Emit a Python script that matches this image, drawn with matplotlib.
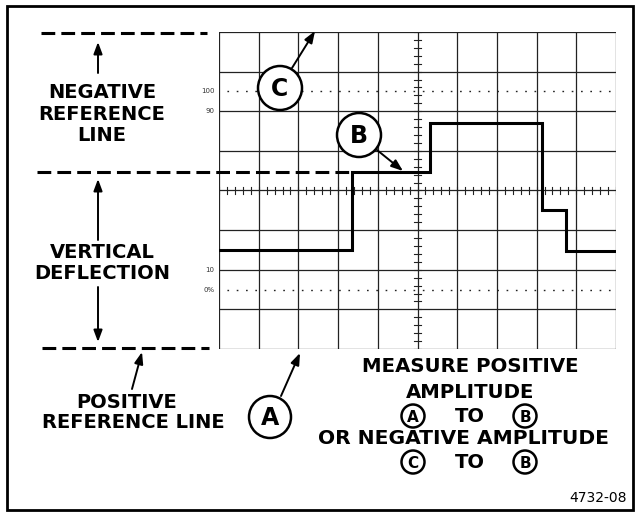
import matplotlib
matplotlib.use("Agg")
import matplotlib.pyplot as plt
from matplotlib.patches import Circle, FancyArrowPatch, Rectangle

# ---- data (graticule divisions) ----
edge_times = [0.0, 3.35, 5.31, 8.14, 8.74, 10.0]
levels = [2.50, 4.47, 5.71, 3.51, 2.48, 2.48]
n_hdiv = 10
n_vdiv = 8
pct_lines = [1.5, 6.5]            # 0% and 100% dotted lines
pct_labels = ["0%", "10", "90", "100"]
pct_label_levels = [1.5, 2.0, 6.0, 6.5]

left_labels = [("NEGATIVE\nREFERENCE\nLINE", 102, 114),
               ("VERTICAL\nDEFLECTION", 102, 263),
               ("POSITIVE", 127, 402),
               ("REFERENCE LINE", 133, 423)]
note_lines = ["MEASURE POSITIVE", "AMPLITUDE", "OR NEGATIVE AMPLITUDE"]
fig_id = "4732-08"

W, H = 639, 515
fig = plt.figure(figsize=(W / 100, H / 100), dpi=100)
fig.patch.set_facecolor("white")

# ---- graticule ----
gx0, gx1, gy0, gy1 = 219, 616, 32, 349
ax = fig.add_axes([gx0 / W, (H - gy1) / H, (gx1 - gx0) / W, (gy1 - gy0) / H])
ax.set_xlim(0, n_hdiv)
ax.set_ylim(0, n_vdiv)
ax.axis("off")
gcol = "#222222"
for i in range(n_hdiv + 1):
    ax.plot([i, i], [0, n_vdiv], color=gcol, lw=0.9, zorder=1)
for j in range(n_vdiv + 1):
    ax.plot([0, n_hdiv], [j, j], color=gcol, lw=0.9, zorder=1)
# minor ticks on the centre axes
k = 0
while k <= n_hdiv * 5:
    xv = k / 5
    ax.plot([xv, xv], [n_vdiv / 2 - 0.08, n_vdiv / 2 + 0.08], color=gcol, lw=0.8, zorder=1)
    k += 1
k = 0
while k <= n_vdiv * 5:
    yv = k / 5
    ax.plot([n_hdiv / 2 - 0.08, n_hdiv / 2 + 0.08], [yv, yv], color=gcol, lw=0.8, zorder=1)
    k += 1
for yv in pct_lines:
    ax.plot([0, n_hdiv], [yv, yv], color=gcol, lw=1.0, ls=(1, (1.2, 5.5)), zorder=1)
for lab, yv in zip(pct_labels, pct_label_levels):
    ax.text(-0.12, yv, lab, ha="right", va="center", fontsize=5, color="#333333",
            clip_on=False)
# waveform
ax.plot(edge_times, levels, drawstyle="steps-post", color="black", lw=2.2,
        zorder=3, solid_joinstyle="miter")

# ---- overlay in pixel coordinates ----
ov = fig.add_axes([0, 0, 1, 1])
ov.set_xlim(0, W)
ov.set_ylim(H, 0)
ov.axis("off")
ov.patch.set_alpha(0)

ov.add_patch(Rectangle((7, 6), 626, 504, fill=False, ec="black", lw=2.0))

dash = (0, (4.5, 2.0))
ov.plot([41, 207], [33, 33], color="black", lw=2.2, ls=dash)
ov.plot([37, 352], [172, 172], color="black", lw=2.2, ls=dash)
ov.plot([42, 209], [348, 348], color="black", lw=2.2, ls=dash)

tfont = dict(fontfamily="DejaVu Sans", fontweight="bold", color="black")
for txt, x, y in left_labels:
    ov.text(x, y, txt, ha="center", va="center", fontsize=14,
            linespacing=1.15, **tfont)


def arrow(x0, y0, x1, y1):
    ov.add_patch(FancyArrowPatch((x0, y0), (x1, y1),
                                 arrowstyle="-|>,head_length=7,head_width=2.6",
                                 mutation_scale=1, lw=1.4, color="black",
                                 shrinkA=0, shrinkB=0))


arrow(98, 73, 98, 42)
arrow(98, 240, 98, 179)
arrow(98, 287, 98, 342)
arrow(132, 389, 142, 352)
arrow(281, 396, 300, 353)
arrow(292, 68, 315, 31)
arrow(377, 150, 403, 171)


def big_circle(cx, cy, r, letter, fs):
    ov.add_patch(Circle((cx, cy), r, fc="white", ec="black", lw=1.8, zorder=5))
    ov.text(cx, cy + 1, letter, ha="center", va="center", fontsize=fs, zorder=6,
            **tfont)


big_circle(270, 417, 21, "A", 17)
big_circle(280, 88, 22, "C", 17)
big_circle(359, 135, 22, "B", 17)

ov.text(470, 367, note_lines[0], ha="center", va="center", fontsize=14.2, **tfont)
ov.text(470, 392, note_lines[1], ha="center", va="center", fontsize=14.2, **tfont)
ov.text(464, 439, note_lines[2], ha="center", va="center", fontsize=14.6, **tfont)
for yy, first in [(416, "A"), (462, "C")]:
    big_circle(413, yy, 11.5, first, 11)
    ov.text(470, yy, "TO", ha="center", va="center", fontsize=14, **tfont)
    big_circle(525, yy, 11.5, "B", 11)

ov.text(627, 498, fig_id, ha="right", va="center", fontsize=10,
        fontfamily="DejaVu Sans", color="black")

fig.savefig("out.png", dpi=100, facecolor="white")
